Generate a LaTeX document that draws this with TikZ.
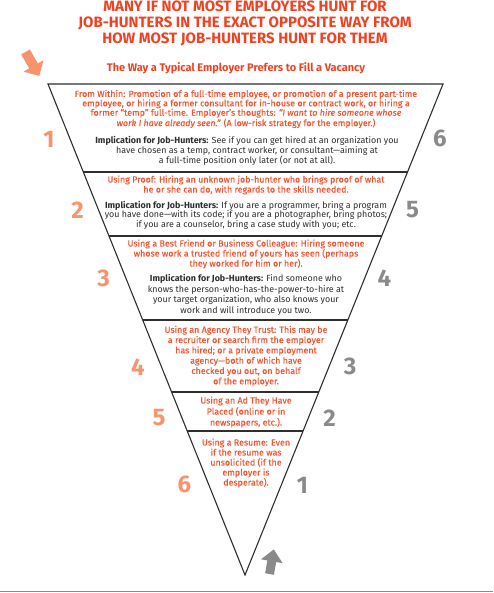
\documentclass[tikz,border=0pt]{standalone}
\usepackage{fontspec}
\setmainfont{Fira Sans}
\newfontfamily\redfont{Fira Sans}[FakeBold=0.4]
\usetikzlibrary{calc}

\definecolor{titlered}{HTML}{EE4323}
\definecolor{bodyred}{HTML}{F05633}
\definecolor{numorange}{HTML}{F7936D}
\definecolor{numgray}{HTML}{8A8A8A}
\definecolor{inkgray}{HTML}{2E2E2E}

\tikzset{
  edge/.style={draw=inkgray, line width=1.1pt},
  redtext/.style={text=bodyred, align=center, inner sep=0pt,
    font=\redfont\fontsize{8.9}{10}\selectfont},
  blacktext/.style={text=inkgray, align=center, inner sep=0pt,
    font=\fontsize{8.9}{9.6}\selectfont},
  leftnum/.style={text=numorange, inner sep=0pt, font=\fontsize{24}{24}\selectfont\bfseries},
  rightnum/.style={text=numgray, inner sep=0pt, font=\fontsize{24}{24}\selectfont\bfseries}
}

\begin{document}
\begin{tikzpicture}[x=1pt, y=-1pt]
        \useasboundingbox (0,0) rectangle (493,593);

        % heading
        \node[text=titlered, align=center, inner sep=0pt,
          font=\fontsize{15}{16}\selectfont\bfseries] (title) at (245,23.5)
        {MANY IF NOT MOST EMPLOYERS HUNT FOR\\
         JOB-HUNTERS IN THE EXACT OPPOSITE WAY FROM\\
         HOW MOST JOB-HUNTERS HUNT FOR THEM};
        \node[text=titlered, inner sep=0pt,
          font=\fontsize{11}{12}\selectfont\bfseries] (subtitle) at (236,68)
        {The Way a Typical Employer Prefers to Fill a Vacancy};

        % arrows
        \fill[numorange] (21.2,54.5) -- (29.8,49.5) -- (37.8,63.4) -- (43.5,60.2)
          -- (39.3,76) -- (23.5,71.6) -- (29.2,68.4) -- cycle;
        \fill[numgray] (265.1,573.2) -- (273.9,574.8) -- (276.2,562) -- (282.6,563.1)
          -- (273.8,549.4) -- (261,559.3) -- (267.4,560.4) -- cycle;

        % funnel
        \coordinate (tl) at (48,84);
        \coordinate (tr) at (443,84);
        \coordinate (apex) at (245,575);
        \draw[edge, line join=miter] (tl) -- (tr) -- (apex) -- cycle;
        \foreach \y in {172,236,320,392,431}
          \draw[edge] ($(tl)!{(\y-84)/491}!(apex)$) -- ($(tr)!{(\y-84)/491}!(apex)$);

        % level 1
        \node[redtext, font=\redfont\fontsize{8.9}{9.4}\selectfont] (within) at (246,109)
        {From Within: Promotion of a full-time employee, or promotion of a present part-time\\
         employee, or hiring a former consultant for in-house or contract work, or hiring a\\
         former “temp” full-time. Employer’s thoughts: \textit{“I want to hire someone whose}\\
         \textit{work I have already seen.”} (A low-risk strategy for the employer.)};
        \node[blacktext, font=\fontsize{8.9}{9.4}\selectfont] (withinimp) at (247,151)
        {\textbf{Implication for Job-Hunters:} See if you can get hired at an organization you\\
         have chosen as a temp, contract worker, or consultant—aiming at\\
         a full-time position only later (or not at all).};

        % level 2
        \node[redtext] (proof) at (246,185)
        {Using Proof: Hiring an unknown job-hunter who brings proof of what\\
         he or she can do, with regards to the skills needed.};
        \node[blacktext] (proofimp) at (246,215)
        {\textbf{Implication for Job-Hunters:} If you are a programmer, bring a program\\
         you have done—with its code; if you are a photographer, bring photos;\\
         if you are a counselor, bring a case study with you; etc.};

        % level 3
        \node[redtext] (friend) at (246,254)
        {Using a Best Friend or Business Colleague: Hiring someone\\
         whose work a trusted friend of yours has seen (perhaps\\
         they worked for him or her).};
        \node[blacktext, font=\fontsize{8.9}{10.6}\selectfont] (friendimp) at (246,295)
        {\textbf{Implication for Job-Hunters:} Find someone who\\
         knows the person-who-has-the-power-to-hire at\\
         your target organization, who also knows your\\
         work and will introduce you two.};

        % level 4
        \node[redtext, font=\redfont\fontsize{8.9}{10.3}\selectfont] (agency) at (246,356)
        {Using an Agency They Trust: This may be\\
         a recruiter or search firm the employer\\
         has hired; or a private employment\\
         agency—both of which have\\
         checked you out, on behalf\\
         of the employer.};

        % level 5
        \node[redtext, font=\redfont\fontsize{8.9}{11}\selectfont] (ad) at (246,412)
        {Using an Ad They Have\\
         Placed (online or in\\
         newspapers, etc.).};

        % level 6
        \node[redtext, font=\redfont\fontsize{8.9}{10}\selectfont] (resume) at (246,463)
        {Using a Resume: Even\\
         if the resume was\\
         unsolicited (if the\\
         employer is\\
         desperate).};

        % rank numbers
        \node[leftnum] (l1) at (49,139) {1};
        \node[leftnum] (l2) at (77.5,210.5) {2};
        \node[leftnum] (l3) at (103.5,278) {3};
        \node[leftnum] (l4) at (138,367) {4};
        \node[leftnum] (l5) at (159,418) {5};
        \node[leftnum] (l6) at (184.5,484.5) {6};
        \node[rightnum] (r6) at (440,138) {6};
        \node[rightnum] (r5) at (412.5,210) {5};
        \node[rightnum] (r4) at (384.5,278) {4};
        \node[rightnum] (r3) at (350,366) {3};
        \node[rightnum] (r2) at (329.5,418) {2};
        \node[rightnum] (r1) at (302.5,485) {1};

        % page rule
        \draw[numgray, line width=1pt] (0,591) -- (493,591);
\end{tikzpicture}
\end{document}
